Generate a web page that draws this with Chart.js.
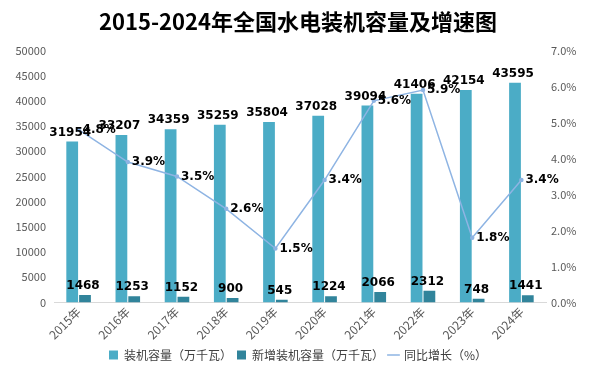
<!DOCTYPE html>
<html>
<head>
<meta charset="utf-8">
<script src="https://cdn.jsdelivr.net/npm/chart.js@4/dist/chart.umd.min.js"></script>
<style>
html,body{margin:0;padding:0;background:#fff;}
#wrap{width:604px;height:382px;position:relative;}
</style>
</head>
<body>
<div id="wrap"><canvas id="c" width="604" height="382"></canvas></div>
<script>
const categories = ['2015年','2016年','2017年','2018年','2019年','2020年','2021年','2022年','2023年','2024年'];
const capacity = [31954,33207,34359,35259,35804,37028,39094,41406,42154,43595];
const added = [1468,1253,1152,900,545,1224,2066,2312,748,1441];
const growth = [4.8,3.9,3.5,2.6,1.5,3.4,5.6,5.9,1.8,3.4];
const seriesNames = ['装机容量（万千瓦）','新增装机容量（万千瓦）','同比增长（%）'];

const labelFont = 'bold 12px "DejaVu Sans", sans-serif';
const labelPlugin = {
  id: 'valLabels',
  afterDatasetsDraw(chart) {
    const ctx = chart.ctx;
    ctx.save();
    ctx.font = labelFont;
    ctx.fillStyle = '#000';
    chart.data.datasets.forEach((ds, di) => {
      const meta = chart.getDatasetMeta(di);
      meta.data.forEach((el, i) => {
        const v = ds.data[i];
        if (ds.type === 'line') {
          ctx.textAlign = 'left';
          ctx.textBaseline = 'middle';
          ctx.fillText(v.toFixed(1) + '%', el.x + 4, el.y);
        } else {
          ctx.textAlign = 'center';
          ctx.textBaseline = 'bottom';
          ctx.fillText(String(v), el.x - 2, el.y - 3);
        }
      });
    });
    ctx.restore();
  }
};

const tickFont = { family: '"Noto Sans CJK SC", sans-serif', size: 11 };

new Chart(document.getElementById('c'), {
  type: 'bar',
  data: {
    labels: categories,
    datasets: [
      { type: 'bar', label: seriesNames[0], data: capacity, backgroundColor: '#4BACC6', yAxisID: 'y', order: 2, categoryPercentage: 0.52, barPercentage: 0.92 },
      { type: 'bar', label: seriesNames[1], data: added, backgroundColor: '#31849B', yAxisID: 'y', order: 2, categoryPercentage: 0.52, barPercentage: 0.92 },
      { type: 'line', label: seriesNames[2], data: growth, borderColor: '#8EB4E3', backgroundColor: '#8EB4E3', borderWidth: 1.5, pointRadius: 1.5, pointStyle: 'circle', yAxisID: 'y1', order: 1 }
    ]
  },
  options: {
    responsive: false,
    animation: false,
    layout: { padding: { top: 0, left: 0, right: 8, bottom: 11 } },
    plugins: {
      title: {
        display: true,
        text: '2015-2024年全国水电装机容量及增速图',
        font: { family: '"Noto Sans CJK SC", sans-serif', size: 22, weight: 'bold' },
        color: '#000',
        padding: { top: 8, bottom: 16 }
      },
      legend: {
        position: 'bottom',
        labels: {
          font: { family: '"Noto Sans CJK SC", sans-serif', size: 12 },
          color: '#404040',
          boxWidth: 9, boxHeight: 9,
          usePointStyle: true,
          padding: 5,
          generateLabels(chart) {
            const items = Chart.defaults.plugins.legend.labels.generateLabels(chart);
            items.sort((a, b) => a.datasetIndex - b.datasetIndex);
            items.forEach(it => {
              if (it.datasetIndex < 2) { it.pointStyle = 'rect'; }
              else { it.pointStyle = 'line'; it.lineWidth = 1.5; it.strokeStyle = '#8EB4E3'; }
            });
            return items;
          }
        }
      },
      tooltip: { enabled: false }
    },
    scales: {
      x: {
        grid: { display: false, drawTicks: false },
        border: { display: true, color: '#D9D9D9' },
        ticks: { font: { family: '"Noto Sans CJK SC", sans-serif', size: 12 }, color: '#595959', maxRotation: 45, minRotation: 45, padding: 2 }
      },
      y: {
        position: 'left',
        min: 0, max: 50000,
        grid: { display: false, drawTicks: false },
        border: { display: false },
        ticks: { stepSize: 5000, font: tickFont, color: '#595959', padding: 8, callback: v => String(v) },
        afterFit(s) { s.width = 54; }
      },
      y1: {
        position: 'right',
        min: 0, max: 7,
        grid: { display: false, drawTicks: false },
        border: { display: false },
        ticks: { stepSize: 1, font: tickFont, color: '#595959', padding: 5, callback: v => v.toFixed(1) + '%' },
        afterFit(s) { s.width = 50; }
      }
    }
  },
  plugins: [labelPlugin]
});
</script>
</body>
</html>
